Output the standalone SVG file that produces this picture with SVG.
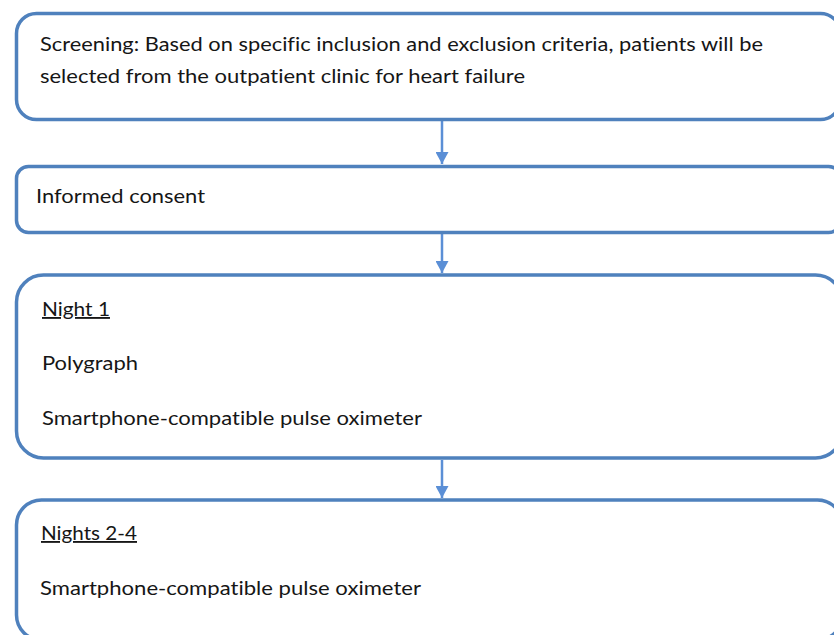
<svg xmlns="http://www.w3.org/2000/svg" width="834" height="635" viewBox="0 0 834 635">
  <style>
    .box { fill: #ffffff; stroke: #4f81bd; stroke-width: 3.5; }
    .conn { stroke: #5b8fd6; stroke-width: 2.5; fill: none; }
    .lbl { font-family: Lato, "Open Sans", "Liberation Sans", sans-serif; font-size: 18.5px; fill: #161616; font-variant-ligatures: none; }
    .u { text-decoration: underline; }
  </style>
  <defs>
    <marker id="arrow" markerUnits="userSpaceOnUse" markerWidth="13" markerHeight="13" refX="12" refY="6.5" orient="auto">
      <path d="M0,0 L12,6.5 L0,13 Z" fill="#5b8fd6"/>
    </marker>
  </defs>
  <rect width="834" height="635" fill="#ffffff"/>

  <g id="connectors">
    <line class="conn" x1="442" y1="121" x2="442" y2="164" marker-end="url(#arrow)"/>
    <line class="conn" x1="442" y1="234" x2="442" y2="273" marker-end="url(#arrow)"/>
    <line class="conn" x1="442" y1="460" x2="442" y2="498" marker-end="url(#arrow)"/>
  </g>

  <g id="screening">
    <rect class="box" x="16.5" y="13.5" width="824" height="106" rx="20" ry="20"/>
    <text class="lbl" x="40" y="51" textLength="723" lengthAdjust="spacingAndGlyphs">Screening: Based on specific inclusion and exclusion criteria, patients will be</text>
    <text class="lbl" x="40" y="83" textLength="485" lengthAdjust="spacingAndGlyphs">selected from the outpatient clinic for heart failure</text>
  </g>

  <g id="consent">
    <rect class="box" x="16.5" y="166.5" width="824" height="66" rx="12" ry="12"/>
    <text class="lbl" x="36" y="203" textLength="169" lengthAdjust="spacingAndGlyphs">Informed consent</text>
  </g>

  <g id="night1">
    <rect class="box" x="16.5" y="275" width="826" height="183" rx="27" ry="27"/>
    <text class="lbl u" x="42" y="316" textLength="68" lengthAdjust="spacingAndGlyphs">Night 1</text>
    <text class="lbl" x="42" y="370" textLength="96" lengthAdjust="spacingAndGlyphs">Polygraph</text>
    <text class="lbl" x="42" y="425" textLength="380" lengthAdjust="spacingAndGlyphs">Smartphone-compatible pulse oximeter</text>
  </g>

  <g id="nights2to4">
    <rect class="box" x="16.5" y="500" width="826" height="140" rx="25" ry="25"/>
    <text class="lbl u" x="41" y="540" textLength="96" lengthAdjust="spacingAndGlyphs">Nights 2-4</text>
    <text class="lbl" x="40" y="595" textLength="381" lengthAdjust="spacingAndGlyphs">Smartphone-compatible pulse oximeter</text>
  </g>
</svg>
